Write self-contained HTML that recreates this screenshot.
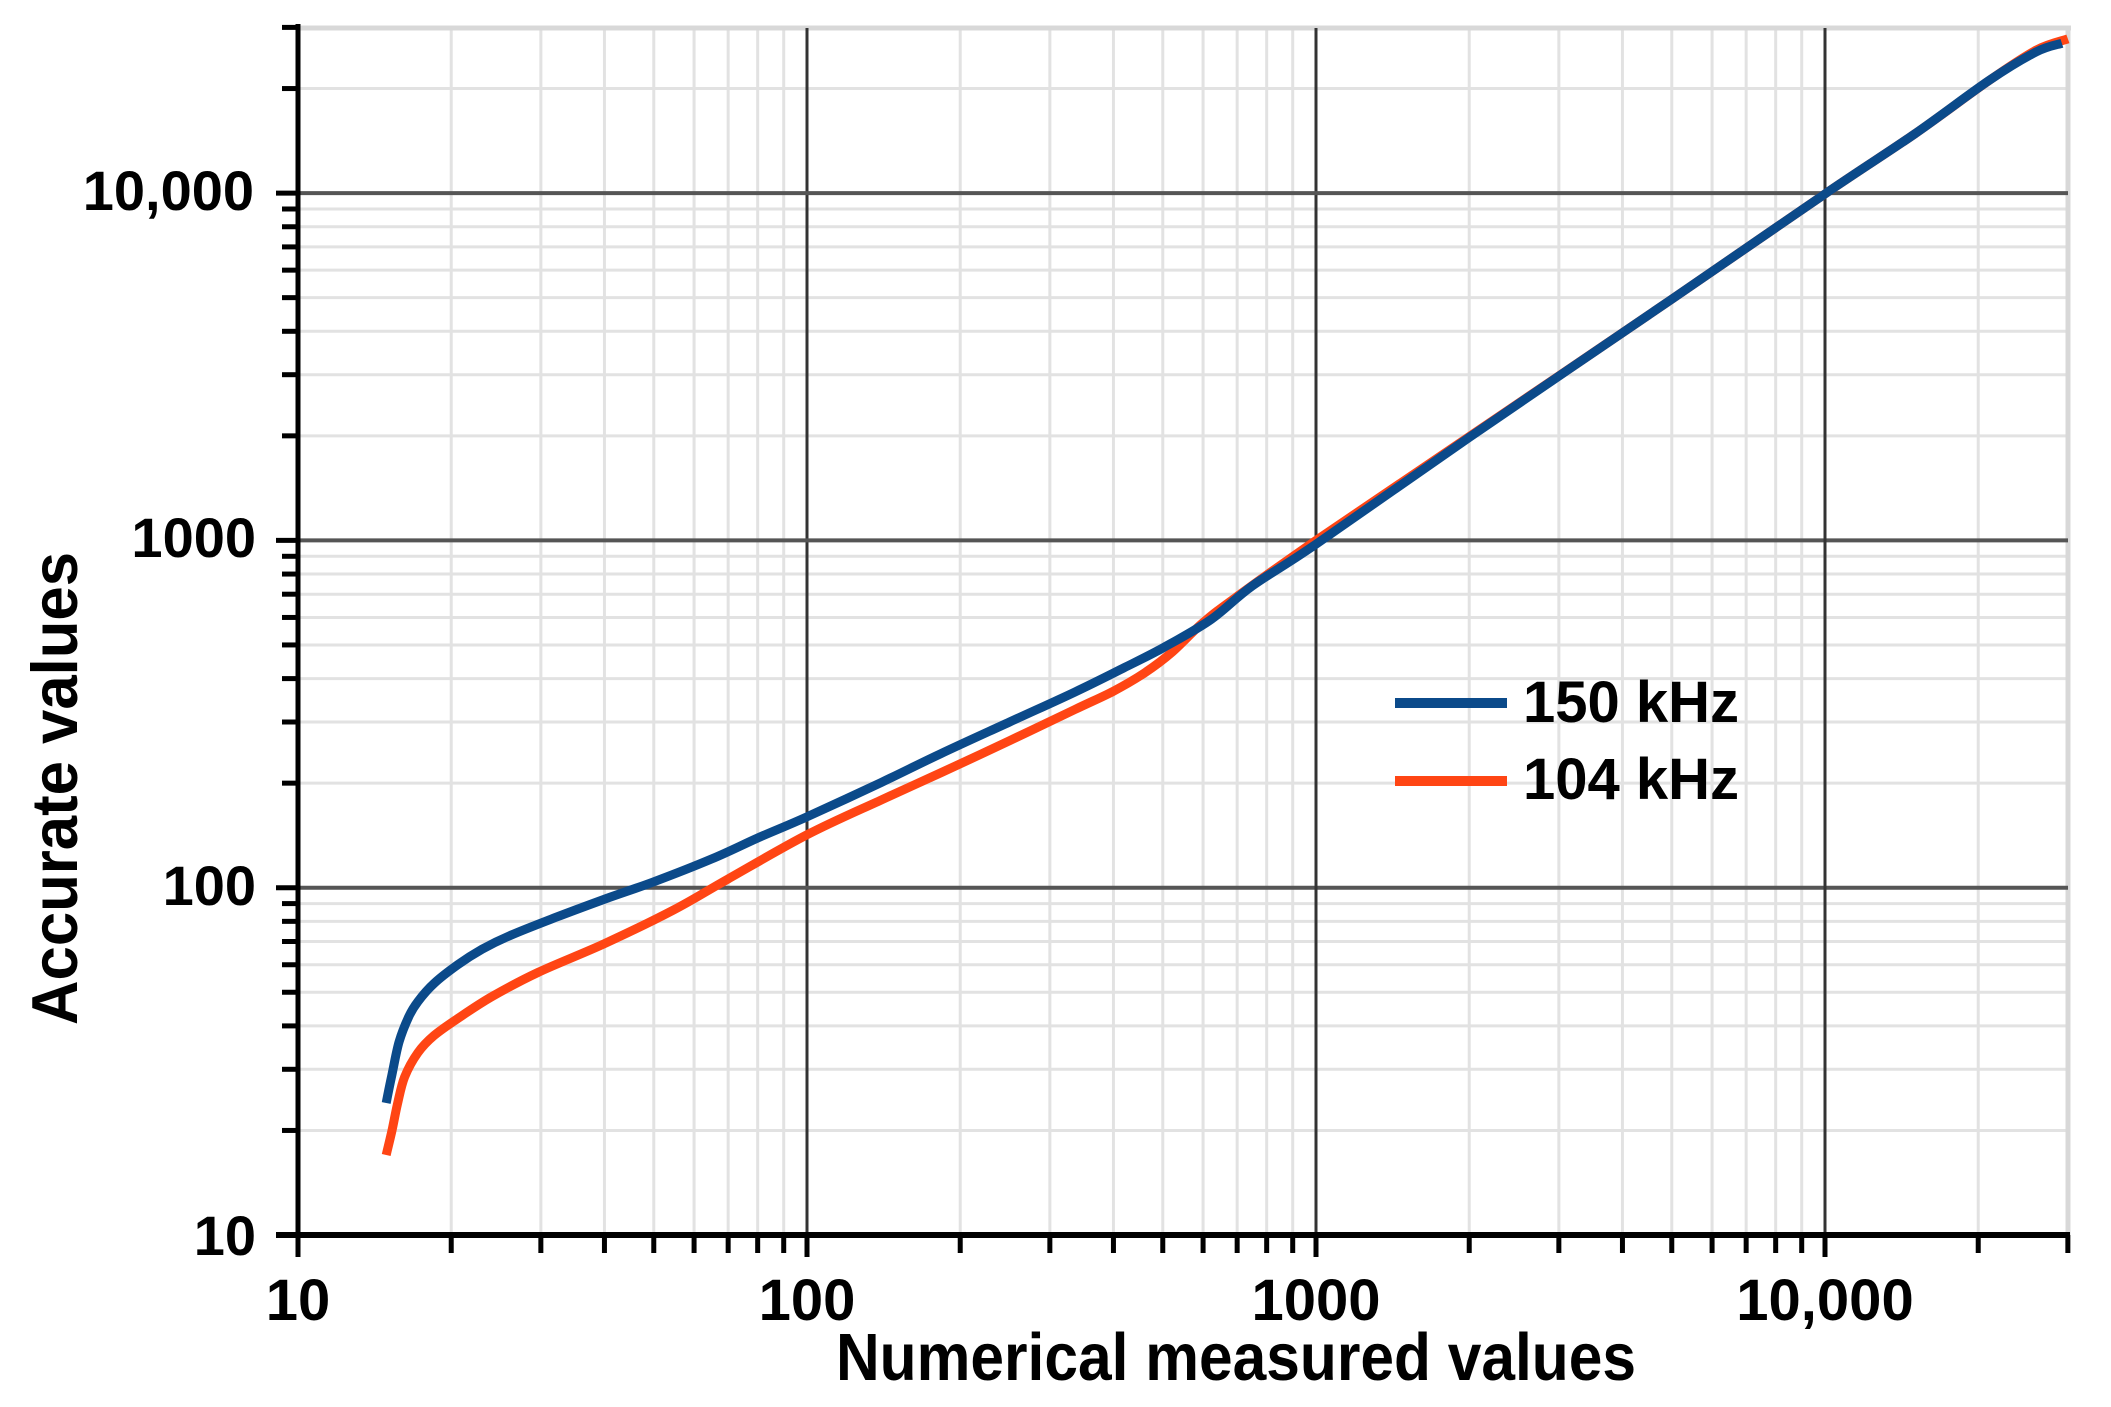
<!DOCTYPE html>
<html><head><meta charset="utf-8"><style>
html,body{margin:0;padding:0;background:#fff;}
svg{display:block;font-family:"Liberation Sans",sans-serif;font-weight:bold;}
</style></head><body>
<svg id="s" width="2111" height="1407" viewBox="0 0 2111 1407" xmlns="http://www.w3.org/2000/svg">
<g id="grid"></g>
<g id="curves"></g>
<g id="axes"></g>
<g font-size="56" text-anchor="end" fill="#000">
<text x="254" y="210">10,000</text>
<text x="256" y="557">1000</text>
<text x="256" y="905">100</text>
<text x="256" y="1255">10</text>
</g>
<g font-size="58" text-anchor="middle" fill="#000">
<text x="298" y="1320">10</text>
<text x="807" y="1320">100</text>
<text x="1316" y="1320">1000</text>
<text x="1825" y="1320">10,000</text>
</g>
<text x="836" y="1380" font-size="67" textLength="800" lengthAdjust="spacingAndGlyphs">Numerical measured values</text>
<text transform="translate(77,1025) rotate(-90)" font-size="65" textLength="473" lengthAdjust="spacingAndGlyphs">Accurate values</text>
<line x1="1395" y1="703" x2="1507" y2="703" stroke="#0b4a8a" stroke-width="10"/>
<line x1="1395" y1="781" x2="1507" y2="781" stroke="#ff4514" stroke-width="10"/>
<text x="1523" y="722" font-size="58">150 kHz</text>
<text x="1523" y="799" font-size="58">104 kHz</text>
</svg>
<script>
var NS="http://www.w3.org/2000/svg";
function X(v){return 298+509*Math.log10(v/10);}
function Y(v){return 1235-347.3*Math.log10(v/10);}
function el(p,t,a){var e=document.createElementNS(NS,t);for(var k in a)e.setAttribute(k,a[k]);p.appendChild(e);return e;}
var g=document.getElementById('grid'),ax=document.getElementById('axes'),cv=document.getElementById('curves');
var L=298,R=2068,T=28,B=1235;
var decs=[10,100,1000,10000];
decs.forEach(function(d){for(var k=2;k<=9;k++){var v=d*k;
 if(v<=30000){var x=X(v); if(x<R-2) el(g,'line',{x1:x,y1:T,x2:x,y2:B,stroke:'#e2e2e2','stroke-width':3});}
 if(v<=30000){var y=Y(v); if(y>T+2) el(g,'line',{x1:L,y1:y,x2:R,y2:y,stroke:'#e2e2e2','stroke-width':3});}
}});
el(g,'line',{x1:L,y1:T,x2:R+3,y2:T,stroke:'#d8d8d8','stroke-width':5});
el(g,'line',{x1:R,y1:T,x2:R,y2:B,stroke:'#d8d8d8','stroke-width':5});
[100,1000,10000].forEach(function(v){
 el(g,'line',{x1:X(v),y1:T,x2:X(v),y2:B,stroke:'#333','stroke-width':3});
 el(g,'line',{x1:L,y1:Y(v),x2:R,y2:Y(v),stroke:'#555','stroke-width':4});
});
function smooth(pts){
 var P=pts.map(function(p){return [X(p[0]),Y(p[1])];});
 var d='M'+P[0][0].toFixed(1)+' '+P[0][1].toFixed(1);
 for(var i=0;i<P.length-1;i++){
  var p0=P[Math.max(0,i-1)],p1=P[i],p2=P[i+1],p3=P[Math.min(P.length-1,i+2)];
  var c1=[p1[0]+(p2[0]-p0[0])/6,p1[1]+(p2[1]-p0[1])/6];
  var c2=[p2[0]-(p3[0]-p1[0])/6,p2[1]-(p3[1]-p1[1])/6];
  d+=' C'+c1[0].toFixed(1)+' '+c1[1].toFixed(1)+' '+c2[0].toFixed(1)+' '+c2[1].toFixed(1)+' '+p2[0].toFixed(1)+' '+p2[1].toFixed(1);
 }
 return d;
}
var orange=[[14.9,17],[15.3,20],[15.7,24],[16.2,28.5],[17.2,33.5],[18.5,37.5],[20.6,42],[24,48.5],[29.6,57],[40,69],[54.5,86],[70,106],[100,142],[140,179],[183,214],[250,265],[336,326],[400,368],[460,415],[520,475],[600,580],[700,690],[1000,1000],[2000,1990],[5000,4950],[10000,9950],[15000,14800],[21100,21200],[26000,25800],[30000,27800]];
var blue=[[14.9,24],[15.3,29],[15.8,36],[16.5,42.5],[17.2,47],[18.5,53],[20.6,60],[23,66.5],[26.2,73],[32,82],[40.3,93],[50,104],[65,121],[80,139],[100,160],[140,201],[183,243],[250,300],[336,366],[420,430],[500,490],[620,590],[750,740],[1000,975],[2000,1980],[5000,4950],[10000,9950],[15000,14800],[21100,21200],[26000,25500],[29200,27000]];
el(cv,'path',{d:smooth(orange),fill:'none',stroke:'#ff4514','stroke-width':9,'stroke-linejoin':'round'});
el(cv,'path',{d:smooth(blue),fill:'none',stroke:'#0b4a8a','stroke-width':9,'stroke-linejoin':'round'});
el(ax,'line',{x1:L,y1:T-4,x2:L,y2:B+22,stroke:'#000','stroke-width':5});
el(ax,'line',{x1:L-22,y1:B,x2:R+2,y2:B,stroke:'#000','stroke-width':6});
decs.forEach(function(d){for(var k=1;k<=9;k++){var v=d*k; if(v<=10||v>30000)continue;
 var maj=(k==1);var x=X(v), y=Y(v);
 el(ax,'line',{x1:x,y1:B,x2:x,y2:B+(maj?22:18),stroke:'#000','stroke-width':5});
 el(ax,'line',{x1:L,y1:y,x2:L-(maj?22:16),y2:y,stroke:'#000','stroke-width':5});
}});
</script>
</body></html>
